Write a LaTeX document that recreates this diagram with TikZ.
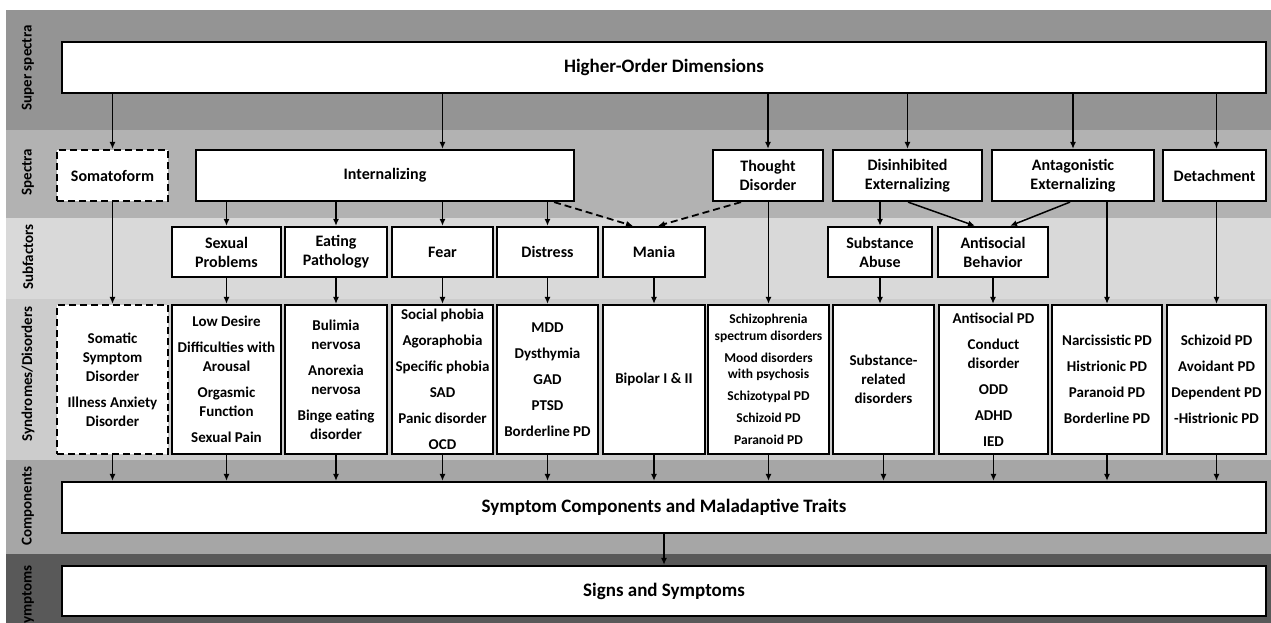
\documentclass[tikz,border=0pt]{standalone}
\usepackage{fontspec}
\setmainfont{Carlito}
\usetikzlibrary{arrows.meta,calc}

\definecolor{superband}{gray}{0.58}
\definecolor{spectraband}{gray}{0.70}
\definecolor{subband}{gray}{0.85}
\definecolor{synband}{gray}{0.80}
\definecolor{compband}{gray}{0.65}
\definecolor{sympband}{gray}{0.35}

\begin{document}
\begin{tikzpicture}[x=1pt, y=-1pt,
    box/.style={draw, line width=2.2pt, fill=white, inner sep=0pt, align=center,
                font=\bfseries\fontsize{16}{19}\selectfont},
    dbox/.style={box, dash pattern=on 7pt off 4pt},
    wide/.style={box, minimum width=1204, font=\bfseries\fontsize{19}{22}\selectfont},
    spec/.style={minimum height=51},
    sub/.style={minimum height=50},
    syn/.style={minimum height=149, font=\bfseries\fontsize{15}{19}\selectfont},
    small/.style={font=\bfseries\fontsize{13.5}{16.5}\selectfont},
    lab/.style={rotate=90, inner sep=0pt, font=\bfseries\fontsize{15}{15}\selectfont},
    arr/.style={-{Latex[length=7pt,width=6pt]}, line width=1.5pt},
    darr/.style={arr, line width=1.8pt, dash pattern=on 7pt off 4pt}]
    \useasboundingbox (0,0) rectangle (1271,623);

    % draw level bands
    \fill[superband] (6,10) rectangle (1271,130);
    \fill[spectraband] (6,130) rectangle (1271,218);
    \fill[subband] (6,218) rectangle (1271,299);
    \fill[synband] (6,299) rectangle (1271,460);
    \fill[compband] (6,460) rectangle (1271,554);
    \fill[sympband] (6,554) rectangle (1271,623);

    \node[lab] (lsuper) at (28,68) {Super spectra};
    \node[lab] (lspectra) at (28,172) {Spectra};
    \node[lab] (lsub) at (28,257) {Subfactors};
    \node[lab] (lsyn) at (28,374) {Syndromes/Disorders};
    \node[lab] (lcomp) at (28,506) {Components};
    \node[lab] (lsymp) at (28,598) {Symptoms};

    % top and bottom boxes
    \node[wide, minimum height=51] (higher) at (664,67.5) {Higher-Order Dimensions};
    \node[wide, minimum height=51] (comp) at (664,507.5) {Symptom Components and Maladaptive Traits};
    \node[wide, minimum height=50] (symp) at (664,591) {Signs and Symptoms};

    % spectra
    \node[dbox, spec, minimum width=111] (soma) at (112.5,175.5) {Somatoform};
    \node[box, spec, minimum width=378] (intern) at (385,175.5) {Internalizing};
    \node[box, spec, minimum width=110] (thought) at (768,175.5) {Thought\\Disorder};
    \node[box, spec, minimum width=149] (disinh) at (907.5,175.5) {Disinhibited\\Externalizing};
    \node[box, spec, minimum width=162] (antag) at (1073,175.5) {Antagonistic\\Externalizing};
    \node[box, spec, minimum width=103] (detach) at (1214.5,175.5) {Detachment};

    % subfactors
    \node[box, sub, minimum width=109] (sexual) at (226.5,252) {Sexual\\Problems};
    \node[box, sub, minimum width=102] (eating) at (336,252) {Eating\\Pathology};
    \node[box, sub, minimum width=101] (fear) at (442.5,252) {Fear};
    \node[box, sub, minimum width=101] (distress) at (547.5,252) {Distress};
    \node[box, sub, minimum width=102] (mania) at (654,252) {Mania};
    \node[box, sub, minimum width=104] (subabuse) at (880,252) {Substance\\Abuse};
    \node[box, sub, minimum width=110] (antisoc) at (993,252) {Antisocial\\Behavior};

    % syndromes and disorders
    \node[dbox, syn, minimum width=111] (somatic) at (112.5,379.5) {Somatic\\Symptom\\Disorder\\[7pt]Illness Anxiety\\Disorder};
    \node[box, syn, minimum width=109] (sexdis) at (226.5,379.5) {Low Desire\\[7pt]Difficulties with\\Arousal\\[7pt]Orgasmic\\Function\\[7pt]Sexual Pain};
    \node[box, syn, minimum width=102] (eatdis) at (336,379.5) {Bulimia\\nervosa\\[7pt]Anorexia\\nervosa\\[7pt]Binge eating\\disorder};
    \node[box, syn, minimum width=101] (feardis) at (442.5,379.5) {Social phobia\\[7pt]Agoraphobia\\[7pt]Specific phobia\\[7pt]SAD\\[7pt]Panic disorder\\[7pt]OCD};
    \node[box, syn, minimum width=101] (distdis) at (547.5,379.5) {MDD\\[7pt]Dysthymia\\[7pt]GAD\\[7pt]PTSD\\[7pt]Borderline PD};
    \node[box, syn, minimum width=102] (bipolar) at (654,379.5) {Bipolar I \& II};
    \node[box, syn, small, minimum width=121] (schizo) at (768.5,379.5) {Schizophrenia\\spectrum disorders\\[5.5pt]Mood disorders\\with psychosis\\[5.5pt]Schizotypal PD\\[5.5pt]Schizoid PD\\[5.5pt]Paranoid PD};
    \node[box, syn, minimum width=101] (subrel) at (883.5,379.5) {Substance-\\related\\disorders};
    \node[box, syn, minimum width=109] (antipd) at (993.5,379.5) {Antisocial PD\\[7pt]Conduct\\disorder\\[7pt]ODD\\[7pt]ADHD\\[7pt]IED};
    \node[box, syn, minimum width=110] (narc) at (1107,379.5) {Narcissistic PD\\[7pt]Histrionic PD\\[7pt]Paranoid PD\\[7pt]Borderline PD};
    \node[box, syn, minimum width=99] (schizoid) at (1216.5,379.5) {Schizoid PD\\[7pt]Avoidant PD\\[7pt]Dependent PD\\[7pt]-Histrionic PD};

    % super spectra to spectra
    \draw[arr] (higher.south -| soma) -- (soma.north);
    \draw[arr] (higher.south -| fear) -- (intern.north -| fear);
    \draw[arr] (higher.south -| thought) -- (thought.north);
    \draw[arr] (higher.south -| disinh) -- (disinh.north);
    \draw[arr] (higher.south -| antag) -- (antag.north);
    \draw[arr] (higher.south -| schizoid) -- (detach.north -| schizoid);

    % spectra to subfactors
    \foreach \s in {sexual, eating, fear, distress}
        \draw[arr] (intern.south -| \s) -- (\s.north);
    \draw[darr] ($(intern.south east)+(-21,0)$) -- ($(mania.north)+(-21,0)$);
    \draw[darr] ($(thought.south)+(-27,0)$) -- ($(mania.north)+(4,0)$);
    \draw[arr] (disinh.south -| subabuse) -- (subabuse.north);
    \draw[arr] ($(disinh.south)+(0.5,0)$) -- ($(antisoc.north)+(-18,0)$);
    \draw[arr] ($(antag.south)+(-3,0)$) -- ($(antisoc.north)+(17,0)$);

    % spectra straight to syndromes
    \draw[arr] (soma) -- (somatic);
    \draw[arr] (thought.south -| schizo) -- (schizo.north);
    \draw[arr] (antag.south -| narc) -- (narc.north);
    \draw[arr] (detach.south -| schizoid) -- (schizoid.north);

    % subfactors to syndromes
    \foreach \s/\d in {sexual/sexdis, eating/eatdis, fear/feardis, distress/distdis,
                       mania/bipolar, subabuse/subrel, antisoc/antipd}
        \draw[arr] (\s.south) -- (\s.south |- \d.north);

    % syndromes to components
    \foreach \d in {somatic, sexdis, eatdis, feardis, distdis, bipolar, schizo,
                    subrel, antipd, narc, schizoid}
        \draw[arr] (\d.south) -- (comp.north -| \d);
    \draw[arr] (comp.south) -- (symp.north);
\end{tikzpicture}
\end{document}
